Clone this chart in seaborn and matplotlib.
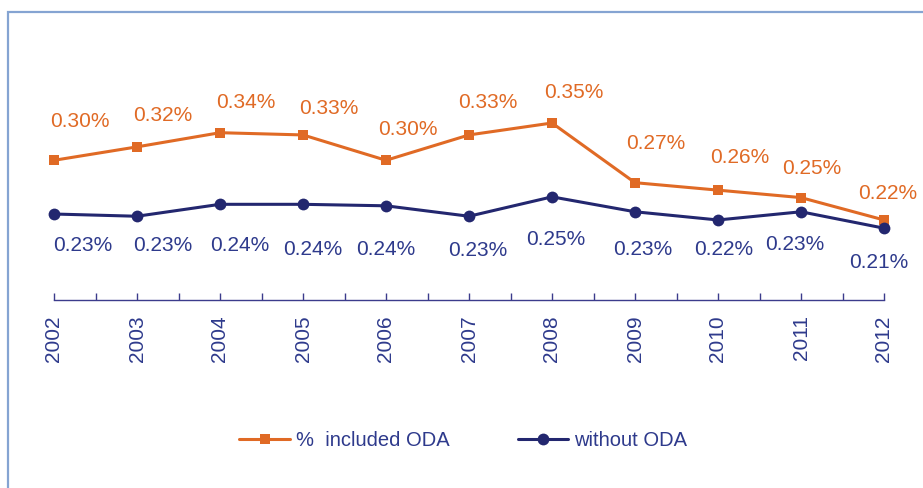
"""
ODA share chart: % included ODA vs without ODA, 2002-2012.
"""

import matplotlib
matplotlib.use("Agg")
import matplotlib.pyplot as plt
import matplotlib.patches as mpatches
from matplotlib.ticker import MultipleLocator
import numpy as np
import pandas as pd
import seaborn as sns

# ---------------------------------------------------------------------------
# Data
# ---------------------------------------------------------------------------
YEARS        = [2002, 2003, 2004, 2005, 2006, 2007, 2008, 2009, 2010, 2011, 2012]
WITH_ODA     = [0.300, 0.318, 0.337, 0.334, 0.300, 0.334, 0.350, 0.270, 0.260, 0.250, 0.220]
WITHOUT_ODA  = [0.228, 0.225, 0.241, 0.241, 0.239, 0.225, 0.251, 0.231, 0.220, 0.231, 0.209]
WITH_LABELS    = ["0.30%", "0.32%", "0.34%", "0.33%", "0.30%", "0.33%", "0.35%",
                  "0.27%", "0.26%", "0.25%", "0.22%"]
WITHOUT_LABELS = ["0.23%", "0.23%", "0.24%", "0.24%", "0.24%", "0.23%", "0.25%",
                  "0.23%", "0.22%", "0.23%", "0.21%"]
SERIES = ["%  included ODA", "without ODA"]

# ---------------------------------------------------------------------------
# Styling
# ---------------------------------------------------------------------------
ORANGE = "#E06A25"
NAVY   = "#23276F"
TEXT   = "#2E3A8C"
BORDER = "#85A4D2"

# label offsets in pixels (dx, dy), matching the reference placement
WITH_OFFS    = [(26, 39), (26, 31), (26, 30), (26, 26), (22, 31), (19, 32),
                (22, 30), (21, 39), (22, 33), (11, 29), (4, 26)]
WITHOUT_OFFS = [(29, -31), (26, -29), (20, -41), (10, -45), (0, -44), (9, -34),
                (4, -43), (8, -38), (6, -30), (-6, -33), (-5, -34)]

sns.set_style("white")
plt.rcParams["font.family"] = ["Liberation Sans", "DejaVu Sans"]

df = pd.DataFrame({
    "year":   YEARS * 2,
    "value":  WITH_ODA + WITHOUT_ODA,
    "series": [SERIES[0]] * len(YEARS) + [SERIES[1]] * len(YEARS),
})

fig = plt.figure(figsize=(9.23, 4.88), dpi=100)
ax = fig.add_axes([54 / 923, 1 - 300 / 488, 830 / 923, 250 / 488])

sns.lineplot(data=df[df.series == SERIES[0]], x="year", y="value", ax=ax,
             color=ORANGE, marker="s", markersize=7.5, markeredgewidth=0,
             linewidth=2.2, label=SERIES[0], clip_on=False)
sns.lineplot(data=df[df.series == SERIES[1]], x="year", y="value", ax=ax,
             color=NAVY, marker="o", markersize=8.5, markeredgewidth=0,
             linewidth=2.2, label=SERIES[1], clip_on=False)

for x, y, t, (dx, dy) in zip(YEARS, WITH_ODA, WITH_LABELS, WITH_OFFS):
    ax.annotate(t, (x, y), xytext=(dx, dy), textcoords="offset pixels",
                ha="center", va="center", fontsize=15, color=ORANGE)
for x, y, t, (dx, dy) in zip(YEARS, WITHOUT_ODA, WITHOUT_LABELS, WITHOUT_OFFS):
    ax.annotate(t, (x, y), xytext=(dx, dy), textcoords="offset pixels",
                ha="center", va="center", fontsize=15, color=TEXT)

ax.set_xlim(2002, 2012)
ax.set_ylim(0.35 - 177 / 746, 0.35 + 73 / 746)
ax.set_xticks(YEARS)
ax.set_xticklabels([str(y) for y in YEARS], rotation=90, fontsize=15, color=TEXT)
ax.xaxis.set_minor_locator(MultipleLocator(0.5))
ax.tick_params(axis="x", which="both", direction="in", length=5, width=1,
               color="#3C3C8C", pad=11, bottom=True)
ax.set_yticks([])
ax.set_xlabel("")
ax.set_ylabel("")
for side in ["top", "right", "left"]:
    ax.spines[side].set_visible(False)
ax.spines["bottom"].set_color("#3C3C8C")
ax.spines["bottom"].set_linewidth(1)

ax.get_legend().remove()
handles, labels = ax.get_legend_handles_labels()
leg = fig.legend(handles, labels, loc="center", bbox_to_anchor=(0.502, 0.098),
                 ncol=2, frameon=False, fontsize=14.5, handlelength=2.5,
                 columnspacing=3.4, handletextpad=0.3)
for t in leg.get_texts():
    t.set_color(TEXT)

# figure frame (right and bottom edges run off the image)
fig.patches.append(mpatches.Rectangle((8 / 923, -0.1), 1.2, 0.1 + 1 - 12 / 488,
                                      transform=fig.transFigure, fill=False,
                                      edgecolor=BORDER, linewidth=1.6))

fig.savefig("out.png", dpi=100)
